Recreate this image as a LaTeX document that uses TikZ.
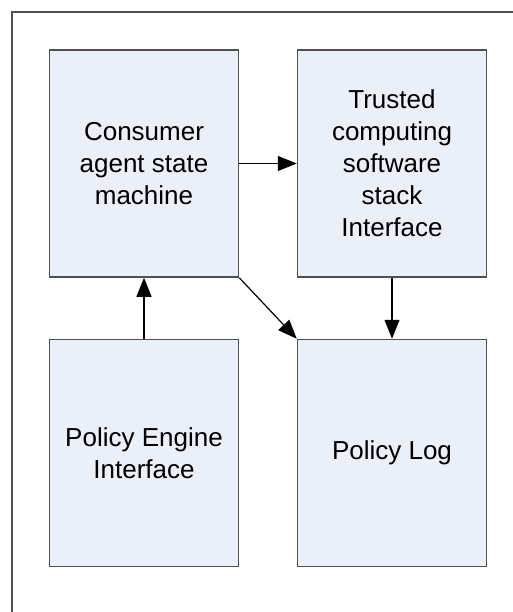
\documentclass[tikz,border=0pt]{standalone}
\usepackage{fontspec}
\setmainfont{Liberation Sans}
\usetikzlibrary{arrows.meta, positioning}
\definecolor{boxfill}{RGB}{234,239,248}
\definecolor{boxline}{RGB}{80,80,80}
\tikzstyle{block} = [rectangle, minimum width=189pt, minimum height=227pt, align=center, draw=boxline, line width=1.5pt, fill=boxfill, font=\fontsize{26}{32}\selectfont]
\tikzstyle{arrow} = [line width=1.2pt, ->, >={Triangle[length=19pt,width=15pt]}]
\tikzstyle{frame} = [line width=1.5pt, draw=boxline]

\begin{document}
\begin{tikzpicture}[x=1pt, y=1pt]
      \useasboundingbox (0,0) rectangle (513,-612);
      \coordinate (corner) at (12,-12);
      \draw [frame] (513,-12) -- (corner) -- (12,-612);

      \node (consumer) [block] at (144,-163.5) {Consumer\\agent state\\machine};
      \node (tcss) [block, right=57.5pt of consumer] {Trusted\\computing\\software\\stack\\Interface};

      \node (engine) [block, below=61pt of consumer] {Policy Engine\\Interface};
      \node (log) [block, below=61pt of tcss] {Policy Log};

      \draw [arrow] (consumer) -- (tcss);
      \draw [arrow] (engine) -- (consumer);
      \draw [arrow] (tcss) -- (log);
      \draw [arrow] (consumer.south east) -- (log.north west);
    \end{tikzpicture}
\end{document}
